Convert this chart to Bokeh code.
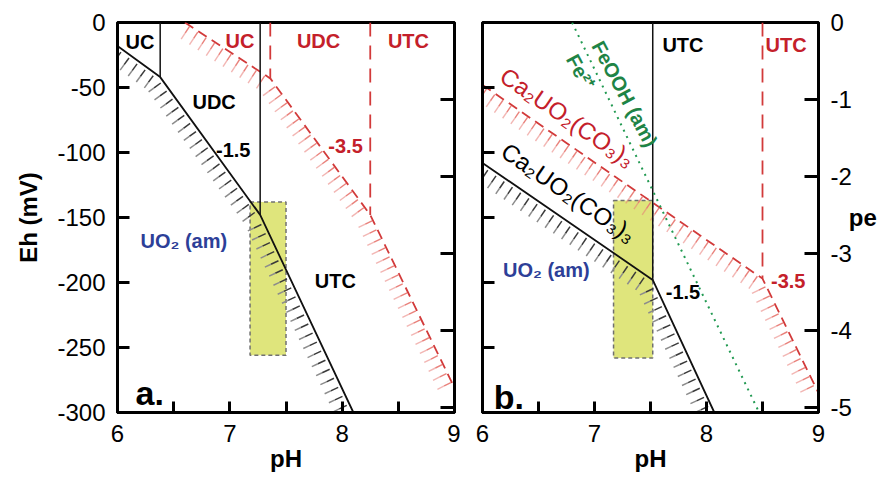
import math
from bokeh.plotting import figure
from bokeh.models import Range1d, LinearAxis, FixedTicker, ColumnDataSource
from bokeh.layouts import row
from bokeh.embed import file_html
from bokeh.resources import INLINE
from bokeh.core.properties import value

FONT = "Liberation Sans"

# ---------------- data (pH, Eh in mV) ----------------
ph_ticks = [6, 6.5, 7, 7.5, 8, 8.5, 9]
ph_labels = ["6", "", "7", "", "8", "", "9"]
eh_ticks = [0, -50, -100, -150, -200, -250, -300]
eh_labels = ["0", "-50", "-100", "-150", "-200", "-250", "-300"]
pe_ticks = [0, -1, -2, -3, -4, -5]
pe_labels = ["0", "-1", "-2", "-3", "-4", "-5"]

# panel a
a_black_ph = [6.00, 6.38, 7.27, 8.10]
a_black_eh = [-18, -42, -148, -300]
a_black_vert_ph = [6.38, 7.27]
a_black_vert_eh = [-42, -148]
a_red_ph = [6.60, 7.36, 8.25, 9.00]
a_red_eh = [0, -43, -148, -281]
a_red_vert_ph = [7.36, 8.25]
a_red_vert_eh = [-43, -148]
a_box = [7.18, 7.50, -138, -256]  # left, right, top, bottom

# panel b
b_black_ph = [6.00, 7.52, 8.07]
b_black_eh = [-108, -198, -300]
b_black_vert_ph = [7.52]
b_black_vert_eh = [-198]
b_red_ph = [6.00, 8.50, 9.00]
b_red_eh = [-48, -197, -285]
b_red_vert_ph = [8.50]
b_red_vert_eh = [-197]
b_green_ph = [6.80, 8.47]
b_green_eh = [0, -300]
b_box = [7.17, 7.52, -137, -258]

# labels: text, pH, Eh
a_labels_black = [("UC", 6.20, -15), ("UDC", 6.86, -61), ("-1.5", 7.03, -98), ("UTC", 7.94, -199)]
a_labels_red = [("UC", 7.09, -14), ("UDC", 7.79, -14), ("UTC", 8.59, -14), ("-3.5", 8.03, -95)]
a_labels_blue = [("UO₂ (am)", 6.59, -168)]
b_labels_black = [("UTC", 7.79, -17), ("-1.5", 7.79, -207)]
b_labels_red = [("UTC", 8.71, -17), ("-3.5", 8.73, -199)]
b_labels_blue = [("UO₂ (am)", 6.57, -190)]

BLACK = "#111111"
RED = "#d23a3a"
RED_TXT = "#c4202a"
RED_HATCH = "#e87a74"
BLUE = "#2d3f98"
GREEN = "#1e8446"
BOX = "#dfe57c"

FRAME_W = 337
FRAME_H = 390
KX = FRAME_W / 3.0     # px per pH unit
KY = FRAME_H / 300.0   # px per mV


def hatch(xs, ys, spacing, length, gap, split=1.0):
    """perpendicular tick marks on lower-left side of a boundary polyline."""
    inner = ([], [], [], [])
    outer = ([], [], [], [])
    for i in range(len(xs) - 1):
        ax, ay = xs[i] * KX, ys[i] * KY
        bx, by = xs[i + 1] * KX, ys[i + 1] * KY
        dx, dy = bx - ax, by - ay
        L = math.hypot(dx, dy)
        ux, uy = dx / L, dy / L
        nx, ny = uy, -ux
        n = int(L // spacing)
        off = (L - n * spacing) / 2 + spacing / 2
        for k in range(n):
            t = off + k * spacing
            if t > L:
                break
            px, py = ax + ux * t, ay + uy * t
            s0 = gap
            s1 = gap + length * split
            s2 = gap + length
            inner[0].append((px + nx * s0) / KX)
            inner[1].append((py + ny * s0) / KY)
            inner[2].append((px + nx * s1) / KX)
            inner[3].append((py + ny * s1) / KY)
            outer[0].append((px + nx * s1) / KX)
            outer[1].append((py + ny * s1) / KY)
            outer[2].append((px + nx * s2) / KX)
            outer[3].append((py + ny * s2) / KY)
    return inner, outer


def make_fig(width, left, right):
    p = figure(width=width, height=477, x_range=Range1d(6, 9), y_range=Range1d(-300, 0),
               output_backend="svg", toolbar_location=None,
               min_border_left=left, min_border_right=right,
               min_border_top=22, min_border_bottom=65)
    p.extra_y_ranges = {"pe": Range1d(-300 / 59.16, 0)}
    p.xgrid.visible = False
    p.ygrid.visible = False
    p.outline_line_color = "black"
    p.outline_line_width = 3
    p.background_fill_color = "white"
    p.border_fill_color = "white"
    xa = p.xaxis[0]
    xa.ticker = FixedTicker(ticks=ph_ticks)
    xa.major_label_overrides = dict(zip(ph_ticks, ph_labels))
    xa.minor_tick_line_color = None
    xa.major_tick_in = 11
    xa.major_tick_out = 0
    xa.major_tick_line_width = 3
    xa.axis_line_width = 3
    xa.major_label_text_font = FONT
    xa.major_label_text_font_size = "24px"
    xa.major_label_text_color = "black"
    xa.major_label_standoff = 12
    xa.axis_label = "pH"
    xa.axis_label_text_font = FONT
    xa.axis_label_text_font_size = "24px"
    xa.axis_label_text_font_style = "bold"
    xa.axis_label_text_color = "black"
    xa.axis_label_standoff = 0
    ya = p.yaxis[0]
    ya.ticker = FixedTicker(ticks=eh_ticks)
    ya.minor_tick_line_color = None
    ya.major_tick_in = 12
    ya.major_tick_out = 0
    ya.major_tick_line_width = 3
    ya.axis_line_width = 3
    return p


def style_labels(ax, ticks, labels, show):
    ax.major_label_text_font = FONT
    ax.major_label_text_color = "black"
    ax.major_label_text_font_size = "24px"
    if show:
        ax.major_label_overrides = dict(zip(ticks, labels))
        ax.major_label_standoff = 12
    else:
        ax.major_label_overrides = {t: "" for t in ticks}
        ax.major_label_standoff = 0


def draw_box(p, box):
    p.quad(left=[box[0]], right=[box[1]], top=[box[2]], bottom=[box[3]],
           fill_color=BOX, line_color="#707070", line_dash="4 3", line_width=1.5)


def draw_black(p, xs, ys, vx, vy):
    inner, outer = hatch(xs, ys, spacing=10, length=15, gap=3, split=0.55)
    p.segment(*inner, line_color="#3a3a3a", line_width=1.5)
    p.segment(*outer, line_color="#8c8c8c", line_width=1.5)
    p.line(xs, ys, line_color=BLACK, line_width=1.8)
    p.segment(x0=vx, y0=[0] * len(vx), x1=vx, y1=vy, line_color=BLACK, line_width=1.5)


def draw_red(p, xs, ys, vx, vy):
    inner, outer = hatch(xs, ys, spacing=10, length=15, gap=1, split=0.5)
    p.segment(*inner, line_color=RED_HATCH, line_width=1.4, line_alpha=0.95)
    p.segment(*outer, line_color=RED_HATCH, line_width=1.4, line_alpha=0.55)
    p.line(xs, ys, line_color=RED, line_width=1.8, line_dash="10 6")
    p.segment(x0=vx, y0=[0] * len(vx), x1=vx, y1=vy, line_color=RED, line_width=1.8,
              line_dash="14 9")


def draw_texts(p, items, color, size="20px", style="bold", angle=0.0, align="center",
               baseline="middle"):
    src = ColumnDataSource(dict(t=[i[0] for i in items], x=[i[1] for i in items],
                                y=[i[2] for i in items]))
    p.text(x="x", y="y", text="t", source=src, text_color=color,
           text_font=value(FONT), text_font_size=value(size), text_font_style=style,
           text_align=align, text_baseline=baseline, angle=angle)


# ---------------- panel a ----------------
pa = make_fig(460, 117, 6)
pa.yaxis[0].axis_label = "Eh (mV)"
pa.yaxis[0].axis_label_text_font = FONT
pa.yaxis[0].axis_label_text_font_size = "24px"
pa.yaxis[0].axis_label_text_font_style = "bold"
pa.yaxis[0].axis_label_text_color = "black"
pa.yaxis[0].axis_label_standoff = 12
style_labels(pa.yaxis[0], eh_ticks, eh_labels, True)
ra = LinearAxis(y_range_name="pe", ticker=FixedTicker(ticks=pe_ticks))
ra.minor_tick_line_color = None
ra.major_tick_in = 14
ra.major_tick_out = 0
ra.major_tick_line_width = 3
ra.axis_line_width = 3
style_labels(ra, pe_ticks, pe_labels, False)
pa.add_layout(ra, "right")

draw_box(pa, a_box)
draw_red(pa, a_red_ph, a_red_eh, a_red_vert_ph, a_red_vert_eh)
draw_black(pa, a_black_ph, a_black_eh, a_black_vert_ph, a_black_vert_eh)
draw_texts(pa, a_labels_black, "black")
draw_texts(pa, a_labels_red, RED_TXT)
draw_texts(pa, a_labels_blue, BLUE)
draw_texts(pa, [("a.", 6.16, -285)], "black", size="34px", align="left", baseline="alphabetic")

# ---------------- panel b ----------------
pb = make_fig(419, 22, 61)
style_labels(pb.yaxis[0], eh_ticks, eh_labels, False)
rb = LinearAxis(y_range_name="pe", ticker=FixedTicker(ticks=pe_ticks))
rb.minor_tick_line_color = None
rb.major_tick_in = 14
rb.major_tick_out = 0
rb.major_tick_line_width = 3
rb.axis_line_width = 3
style_labels(rb, pe_ticks, pe_labels, True)
rb.axis_label = "pe"
rb.axis_label_orientation = "horizontal"
rb.axis_label_text_font = FONT
rb.axis_label_text_font_size = "24px"
rb.axis_label_text_font_style = "bold"
rb.axis_label_text_color = "black"
rb.axis_label_standoff = -6
pb.add_layout(rb, "right")

draw_box(pb, b_box)
draw_red(pb, b_red_ph, b_red_eh, b_red_vert_ph, b_red_vert_eh)
draw_black(pb, b_black_ph, b_black_eh, b_black_vert_ph, b_black_vert_eh)
pb.line(b_green_ph, b_green_eh, line_color="#229a52", line_width=2, line_dash="2 5")
draw_texts(pb, b_labels_black, "black")
draw_texts(pb, b_labels_red, RED_TXT)
draw_texts(pb, b_labels_blue, BLUE)
draw_texts(pb, [("Ca₂UO₂(CO₃)₃", 6.76, -73)], RED_TXT, size="24px", style="normal", angle=-0.6)
draw_texts(pb, [("Ca₂UO₂(CO₃)₃", 6.77, -131)], "black", size="24px", style="normal", angle=-0.6)
draw_texts(pb, [("FeOOH (am)", 7.27, -55)], GREEN, size="20px", angle=-1.08)
draw_texts(pb, [("Fe²⁺", 6.875, -38)], GREEN, size="20px", angle=-1.08)
draw_texts(pb, [("b.", 6.10, -288)], "black", size="34px", align="left", baseline="alphabetic")

layout = row(pa, pb)
open("out.html", "w").write(file_html(layout, INLINE))
